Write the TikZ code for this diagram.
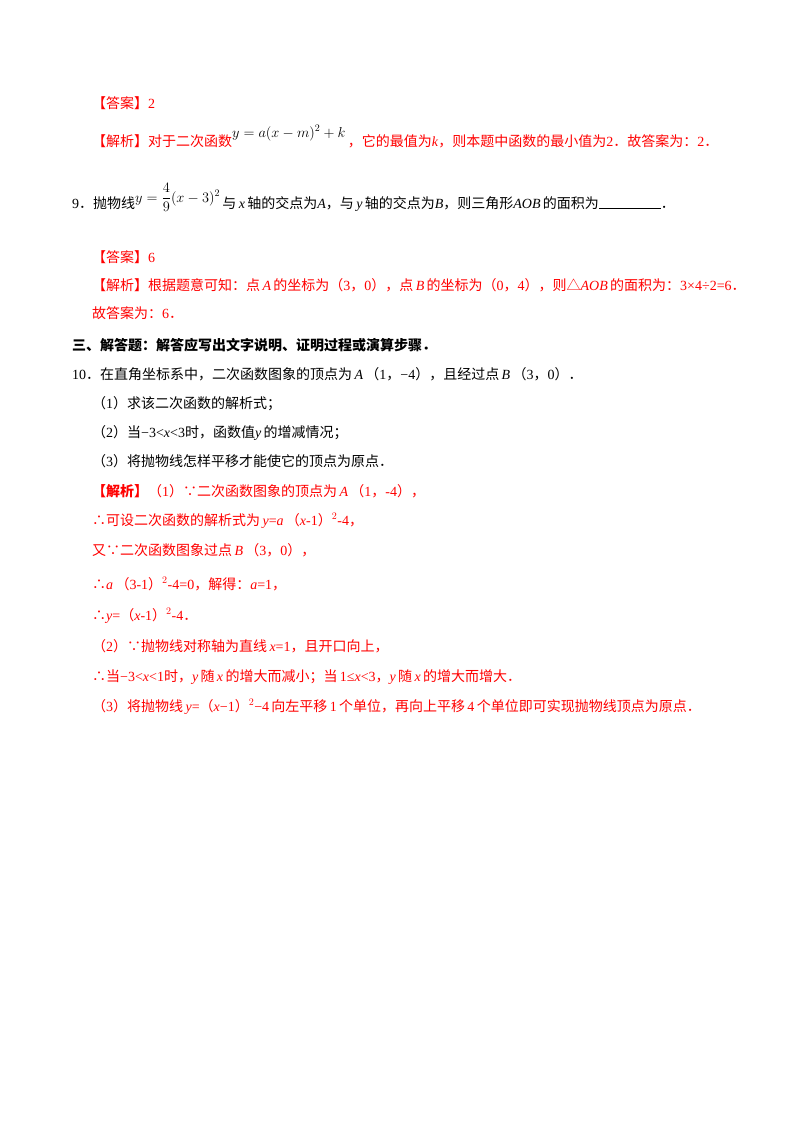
\documentclass[tikz,border=0pt]{standalone}
\usepackage{fontspec}
\setmainfont{Liberation Serif}
\newfontfamily\cjk{Noto Sans CJK SC}
\usepackage{amsmath}
\begin{document}
\begin{tikzpicture}[x=1pt,y=-1pt,
  t/.style={anchor=base west,inner sep=0pt,font=\fontsize{14}{16}\selectfont},
  r/.style={t,text=red}]
\useasboundingbox (0,0) rectangle (800,1132);
\fill[white] (0,0) rectangle (800,1132);
\node[r] (a1) at (92,108) {{\cjk 【答案】}2};
\node[r] (a2) at (92,146) {{\cjk 【解析】对于二次函数}\raisebox{9pt}{\color{black}$y=a(x-m)^2+k$}\,{\cjk ，它的最值为}\textit{k}{\cjk ，则本题中函数的最小值为}2{\cjk ．故答案为：}2{\cjk ．}};
\node[t] (q9) at (72,208) {9{\cjk ．抛物线}\raisebox{6pt}{$y=\dfrac{4}{9}(x-3)^2$}\,{\cjk 与}\,\textit{x}\,{\cjk 轴的交点为}\textit{A}{\cjk ，与}\,\textit{y}\,{\cjk 轴的交点为}\textit{B}{\cjk ，则三角形}\textit{AOB}\,{\cjk 的面积为}\rule[-1pt]{62pt}{0.6pt}{\cjk ．}};
\node[r] (a3) at (92,262) {{\cjk 【答案】}6};
\node[r] (a4) at (92,290) {{\cjk 【解析】根据题意可知：点}\,\textit{A}\,{\cjk 的坐标为（}3{\cjk ，}0{\cjk ），点}\,\textit{B}\,{\cjk 的坐标为（}0{\cjk ，}4{\cjk ），则△}\textit{AOB}\,{\cjk 的面积为：}3×4÷2=6{\cjk ．}};
\node[r] (a5) at (92,318) {{\cjk 故答案为：}6{\cjk ．}};
\node[t] (h3) at (72,350) {\cjk\bfseries 三、解答题：解答应写出文字说明、证明过程或演算步骤．};
\node[t] (q10) at (72,379) {10{\cjk ．在直角坐标系中，二次函数图象的顶点为}\,\textit{A}\,{\cjk （}1{\cjk ，}−4{\cjk ），且经过点}\,\textit{B}\,{\cjk （}3{\cjk ，}0{\cjk ）．}};
\node[t] (s1) at (92,408) {{\cjk （}1{\cjk ）求该二次函数的解析式；}};
\node[t] (s2) at (92,437) {{\cjk （}2{\cjk ）当}−3<\textit{x}<3{\cjk 时，函数值}\textit{y}\,{\cjk 的增减情况；}};
\node[t] (s3) at (92,466) {{\cjk （}3{\cjk ）将抛物线怎样平移才能使它的顶点为原点．}};
\node[r] (b1) at (92,496) {{\cjk\bfseries 【解析】}{\cjk （}1{\cjk ）∵二次函数图象的顶点为}\,\textit{A}\,{\cjk （}1{\cjk ，}-4{\cjk ），}};
\node[r] (b2) at (92,525) {{\cjk ∴可设二次函数的解析式为}\,\textit{y}=\textit{a}\,{\cjk （}\textit{x}-1{\cjk ）}$^{2}$-4{\cjk ，}};
\node[r] (b3) at (92,555) {{\cjk 又∵二次函数图象过点}\,\textit{B}\,{\cjk （}3{\cjk ，}0{\cjk ），}};
\node[r] (b4) at (92,589) {{\cjk ∴}\textit{a}\,{\cjk （}3-1{\cjk ）}$^{2}$-4=0{\cjk ，解得：}\textit{a}=1{\cjk ，}};
\node[r] (b5) at (92,620) {{\cjk ∴}\textit{y}={\cjk （}\textit{x}-1{\cjk ）}$^{2}$-4{\cjk ．}};
\node[r] (b6) at (92,651) {{\cjk （}2{\cjk ）∵抛物线对称轴为直线}\,\textit{x}=1{\cjk ，且开口向上，}};
\node[r] (b7) at (92,681) {{\cjk ∴当}−3<\textit{x}<1{\cjk 时，}\textit{y}\,{\cjk 随}\,\textit{x}\,{\cjk 的增大而减小；当}\,1≤\textit{x}<3{\cjk ，}\textit{y}\,{\cjk 随}\,\textit{x}\,{\cjk 的增大而增大．}};
\node[r] (b8) at (92,711) {{\cjk （}3{\cjk ）将抛物线}\,\textit{y}={\cjk （}\textit{x}−1{\cjk ）}$^{2}$−4\,{\cjk 向左平移}\,1\,{\cjk 个单位，再向上平移}\,4\,{\cjk 个单位即可实现抛物线顶点为原点．}};
\end{tikzpicture}
\end{document}
